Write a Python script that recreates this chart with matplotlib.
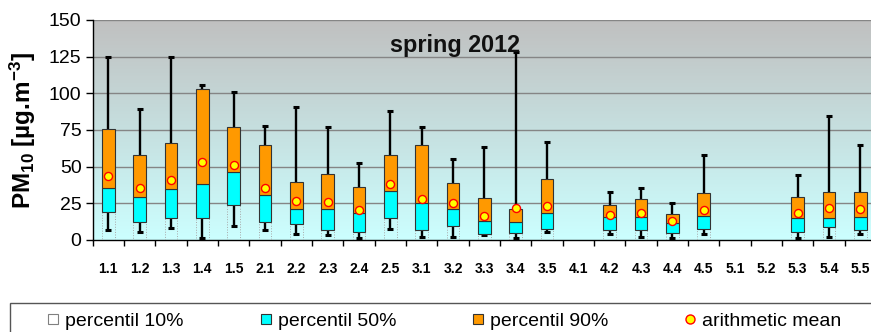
import numpy as np
import matplotlib
matplotlib.use("Agg")
import matplotlib.pyplot as plt
from matplotlib.lines import Line2D
from matplotlib.patches import Rectangle

plt.rcParams['font.family'] = ['Liberation Sans', 'DejaVu Sans']
plt.rcParams['mathtext.fontset'] = 'custom'
plt.rcParams['mathtext.rm'] = 'Liberation Sans:bold'
plt.rcParams['mathtext.bf'] = 'Liberation Sans:bold'
plt.rcParams['mathtext.it'] = 'Liberation Sans:bold'

# Monitoring sites
sites = ["1.1", "1.2", "1.3", "1.4", "1.5", "2.1", "2.2", "2.3", "2.4", "2.5",
         "3.1", "3.2", "3.3", "3.4", "3.5", "4.1", "4.2", "4.3", "4.4", "4.5",
         "5.1", "5.2", "5.3", "5.4", "5.5"]
nan = np.nan
# PM10 statistics, spring 2012 [ug/m3]
pm_min = [6.8, 5.2, 8.4, 1.6, 9.3, 6.8, 4.3, 3.2, 1.6, 7.7,
          2.3, 2.3, 3.2, 1.6, 5.2, nan, 3.9, 2.3, 1.1, 3.9,
          nan, nan, 1.1, 2.3, 3.9]
pm_p10 = [19.1, 12.3, 15.0, 15.0, 24.1, 12.3, 10.9, 6.8, 5.2, 15.0,
          6.8, 9.3, 3.9, 4.8, 7.3, nan, 6.8, 6.8, 4.8, 7.3,
          nan, nan, 5.2, 8.9, 6.8]
pm_p50 = [35.5, 29.1, 35.0, 38.4, 46.4, 30.5, 21.4, 20.9, 18.2, 33.4,
          25.2, 21.4, 13.0, 12.0, 18.2, nan, 15.5, 15.5, 11.4, 16.4,
          nan, nan, 14.8, 14.8, 15.5]
pm_p90 = [75.5, 58.2, 66.4, 102.7, 77.3, 65.0, 39.8, 44.8, 36.4, 58.2,
          65.0, 39.1, 28.6, 20.9, 41.8, nan, 23.9, 28.0, 18.0, 32.3,
          nan, nan, 29.3, 32.7, 32.7]
pm_max = [124.5, 89.1, 124.5, 105.5, 100.7, 78.0, 90.5, 77.3, 52.7, 88.0,
          76.8, 55.5, 63.6, 128.4, 67.0, nan, 32.5, 35.5, 25.2, 58.0,
          nan, nan, 44.5, 84.8, 64.8]
pm_mean = [43.9, 35.7, 40.9, 53.0, 50.9, 35.7, 26.8, 26.1, 20.7, 38.4,
           28.2, 25.0, 16.6, 22.0, 23.4, nan, 16.8, 18.2, 13.2, 20.2,
           nan, nan, 18.2, 22.0, 21.4]
y_ticks = [0, 25, 50, 75, 100, 125, 150]

W, H = 871, 332
fig = plt.figure(figsize=(W / 100, H / 100), dpi=100)
ax = fig.add_axes([92.7 / W, 1 - 240 / H, (876 - 92.7) / W, 220 / H])

x = np.arange(len(sites))
mn, p10, p50, p90, mx, mean = (np.array(a, dtype=float) for a in
                               (pm_min, pm_p10, pm_p50, pm_p90, pm_max, pm_mean))

# gradient plot background (grey at top -> light cyan at bottom)
top = np.array([192, 192, 192]) / 255
bot = np.array([204, 255, 255]) / 255
t = np.linspace(0, 1, 256)[:, None]
grad = (top * (1 - t) + bot * t)[:, None, :]
ax.imshow(grad, extent=[0, 1, 0, 1], transform=ax.transAxes, aspect='auto', zorder=0)

ax.set_xlim(-0.5, len(sites) - 0.5)
ax.set_ylim(0, 150)
ax.set_yticks(y_ticks)
for v in y_ticks[1:]:
    ax.axhline(v, color='#858585', lw=1.0, zorder=1)

bw = 0.4
# whiskers min..max
ax.errorbar(x, p10, yerr=[p10 - mn, mx - p10], fmt='none', ecolor='black',
            elinewidth=1.7, capsize=2.5, capthick=2.2, zorder=2)
# percentile boxes
ax.bar(x, p10, width=bw, bottom=0, facecolor='none', edgecolor='#a8a8a8',
       linewidth=0.7, linestyle=':', zorder=3)
ax.bar(x, p50 - p10, width=bw, bottom=p10, facecolor='#00ffff', edgecolor='#333333',
       linewidth=0.8, zorder=3)
ax.bar(x, p90 - p50, width=bw, bottom=p50, facecolor='#ff9900', edgecolor='#333333',
       linewidth=0.8, zorder=3)
ax.plot(x, mean, linestyle='none', marker='o', markersize=5.8, markerfacecolor='#ffff00',
        markeredgecolor='#ff0000', markeredgewidth=1.0, zorder=5)

ax.text(0.4625, 0.856, "spring 2012", transform=ax.transAxes, ha='center', va='baseline',
        fontsize=16.8, fontweight='bold', color='#111111', zorder=6)

# axes styling
for s in ('top', 'right'):
    ax.spines[s].set_visible(False)
ax.spines['left'].set_linewidth(1.0)
ax.spines['bottom'].set_linewidth(1.0)
ax.tick_params(axis='y', direction='out', length=5, width=1, labelsize=14, pad=3)
ax.set_xticks(np.arange(len(sites) + 1) - 0.5)
ax.set_xticklabels([])
ax.tick_params(axis='x', which='major', direction='out', length=4, width=1)
ax.set_xticks(x, minor=True)
ax.set_xticklabels(sites, minor=True, fontsize=10, fontweight='bold')
ax.tick_params(axis='x', which='minor', length=0, pad=16)

fig.text(23 / W, 1 - 130 / H, r'PM$_{10}$ [µg.m$^{-3}$]', rotation=90, ha='center',
         va='center', fontsize=17.5, fontweight='bold')

# legend frame and entries
fig.patches.append(Rectangle((10 / W, -0.2), 1.0, 0.2 + (H - 303) / H,
                             transform=fig.transFigure, fill=False,
                             edgecolor='#555555', linewidth=1.0))
entries = [
    (Line2D([], [], ls='none', marker='s', markersize=6.5, markerfacecolor='white',
            markeredgecolor='#808080', markeredgewidth=0.8), 'percentil 10%', 53.5),
    (Line2D([], [], ls='none', marker='s', markersize=6.5, markerfacecolor='#00ffff',
            markeredgecolor='#333333', markeredgewidth=0.8), 'percentil 50%', 266),
    (Line2D([], [], ls='none', marker='s', markersize=6.5, markerfacecolor='#ff9900',
            markeredgecolor='#333333', markeredgewidth=0.8), 'percentil 90%', 478),
    (Line2D([], [], ls='none', marker='o', markersize=6.5, markerfacecolor='#ffff00',
            markeredgecolor='#ff0000', markeredgewidth=1.0), 'arithmetic mean', 690),
]
for h, lab, cx in entries:
    fig.legend(handles=[h], labels=[lab], loc='center left',
               bbox_to_anchor=((cx - 5) / W, 1 - 321 / H), frameon=False,
               fontsize=14, handlelength=0.5, handletextpad=0.35,
               borderpad=0, borderaxespad=0)

fig.savefig("out.png", dpi=100)
